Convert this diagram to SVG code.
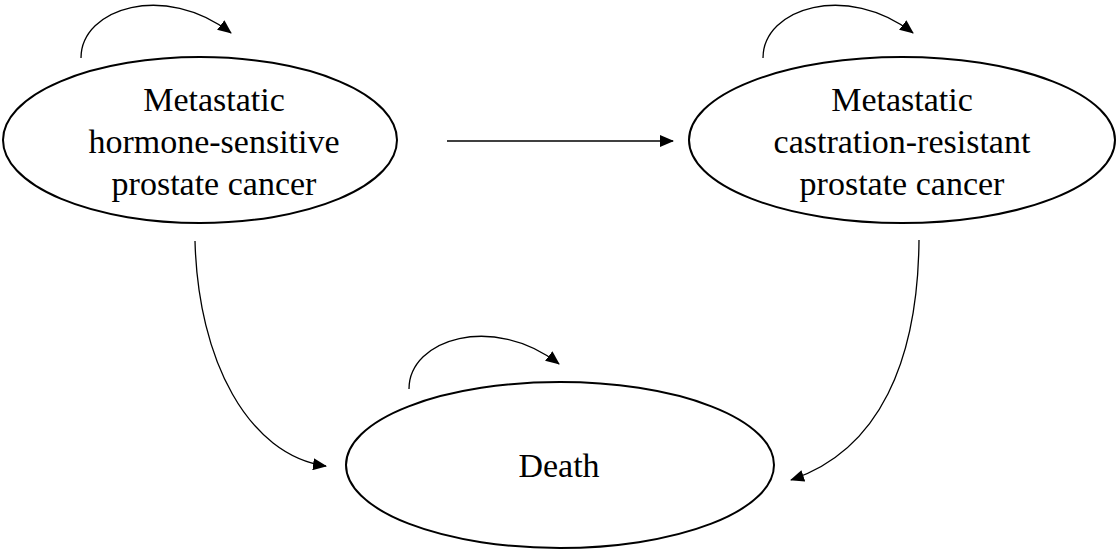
<svg xmlns="http://www.w3.org/2000/svg" width="1119" height="550" viewBox="0 0 1119 550">
<defs>
<style>
.node{fill:#fff;stroke:#000;stroke-width:2}
.lbl{font-family:"Liberation Serif","Times New Roman",serif;font-size:34px;fill:#000;text-anchor:middle}
.conn{fill:none;stroke:#000;stroke-width:1.3}
</style>
<marker id="ah" markerUnits="userSpaceOnUse" markerWidth="14" markerHeight="12" viewBox="0 0 14 12" refX="13" refY="6" orient="auto">
<path d="M0,0 L14,6 L0,12 Z" fill="#000"/>
</marker>
</defs>
<rect width="1119" height="550" fill="#fff"/>
<g id="connectors">
<path class="conn" d="M81,58 C81,8 165,-18 231,33" marker-end="url(#ah)"/>
<path class="conn" d="M763,58 C763,8 847,-18 913,33" marker-end="url(#ah)"/>
<path class="conn" d="M409,389 C409,339 493,313 559,364" marker-end="url(#ah)"/>
<path class="conn" d="M447,141 L673,141" marker-end="url(#ah)" stroke="#444"/>
<path class="conn" d="M195,241 C198,360 248,455 326,466" marker-end="url(#ah)"/>
<path class="conn" d="M919,240 C918,360 880,450 791,480" marker-end="url(#ah)"/>
</g>
<g id="node-mhspc">
<ellipse class="node" cx="200" cy="140" rx="197" ry="83"/>
<text class="lbl" x="214" y="111">Metastatic</text>
<text class="lbl" x="214" y="153">hormone-sensitive</text>
<text class="lbl" x="214" y="195">prostate cancer</text>
</g>
<g id="node-mcrpc">
<ellipse class="node" cx="902" cy="140" rx="213" ry="83"/>
<text class="lbl" x="902" y="111">Metastatic</text>
<text class="lbl" x="902" y="153">castration-resistant</text>
<text class="lbl" x="902" y="195">prostate cancer</text>
</g>
<g id="node-death">
<ellipse class="node" cx="560" cy="465" rx="214" ry="83"/>
<text class="lbl" x="559" y="477">Death</text>
</g>
</svg>
